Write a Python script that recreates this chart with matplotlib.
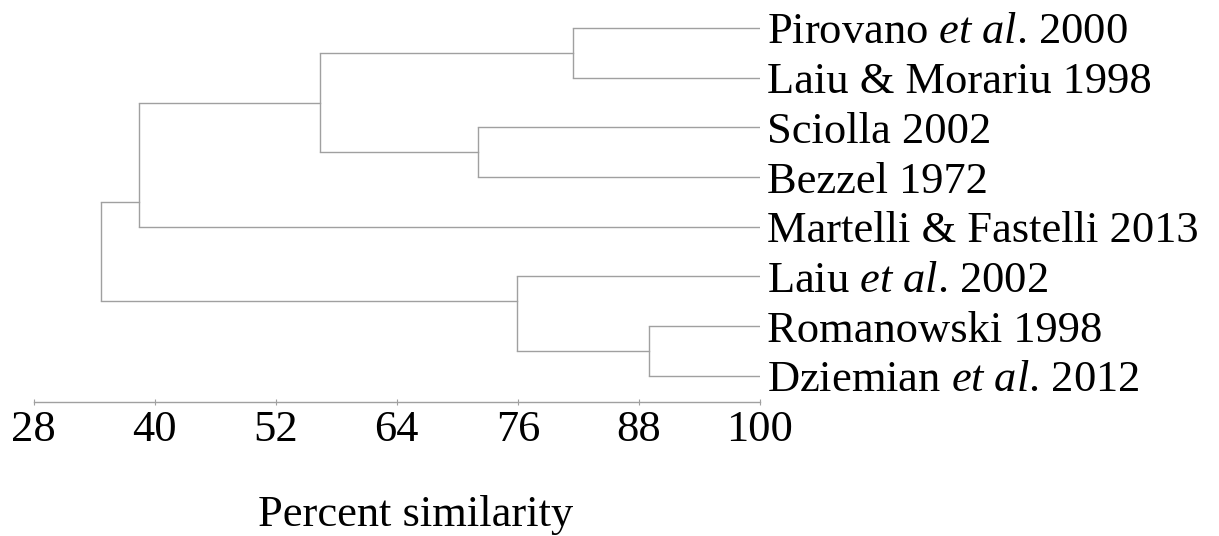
import matplotlib
matplotlib.use("Agg")
import matplotlib.pyplot as plt

# dendrogram of percent similarity between study lists
# leaves listed top to bottom; merges refer to leaf ids 0-7 and node ids 8+

LEAVES = [
    "Pirovano $et\\ al$. 2000",
    "Laiu & Morariu 1998",
    "Sciolla 2002",
    "Bezzel 1972",
    "Martelli & Fastelli 2013",
    "Laiu $et\\ al$. 2002",
    "Romanowski 1998",
    "Dziemian $et\\ al$. 2012",
]
MERGE_LEFT = [0, 2, 8, 10, 6, 5, 11]
MERGE_RIGHT = [1, 3, 9, 4, 7, 12, 13]
MERGE_SIM = [81.5, 72.1, 56.4, 38.5, 89.0, 75.9, 34.7]
# where the parent branch meets each node (leaf units); None = midpoint
MERGE_ATTACH = [None, None, None, 3.5, None, 5.5, None]
XTICKS = [28, 40, 52, 64, 76, 88, 100]

LINE_COLOR = "#a0a0a0"
FS = 32

plt.rcParams["font.family"] = ["Liberation Serif", "DejaVu Serif"]
plt.rcParams["mathtext.fontset"] = "custom"
plt.rcParams["mathtext.rm"] = "Liberation Serif"
plt.rcParams["mathtext.it"] = "Liberation Serif:italic"


def main() -> None:
    fig = plt.figure(figsize=(12.19, 5.36), dpi=100)
    ax = fig.add_axes([33.5 / 1219, 134 / 536, (760 - 33.5) / 1219, 402 / 536])

    n = len(LEAVES)
    node_x = {i: 100.0 for i in range(n)}
    node_y = {i: float(i) for i in range(n)}

    for k, (a, b, sim) in enumerate(zip(MERGE_LEFT, MERGE_RIGHT, MERGE_SIM)):
        ya, yb = node_y[a], node_y[b]
        ax.plot([sim, sim], [ya, yb], color=LINE_COLOR, lw=1.0, solid_capstyle="butt")
        ax.plot([sim, node_x[a]], [ya, ya], color=LINE_COLOR, lw=1.0)
        ax.plot([sim, node_x[b]], [yb, yb], color=LINE_COLOR, lw=1.0)
        nid = n + k
        node_x[nid] = sim
        node_y[nid] = MERGE_ATTACH[k] if MERGE_ATTACH[k] is not None else (ya + yb) / 2

    for i, label in enumerate(LEAVES):
        ax.annotate(label, xy=(100, i), xytext=(5, 0), textcoords="offset points",
                    ha="left", va="center_baseline", fontsize=FS, annotation_clip=False)

    ax.set_xlim(28, 100)
    ax.set_ylim(7.525, -0.563)
    ax.set_xticks(XTICKS)
    ax.set_xticklabels([str(t) for t in XTICKS])
    ax.tick_params(axis="x", direction="inout", length=5, width=0.8, color=LINE_COLOR,
                   labelsize=FS, pad=3)
    ax.set_yticks([])
    for side in ("top", "right", "left"):
        ax.spines[side].set_visible(False)
    ax.spines["bottom"].set_color(LINE_COLOR)
    ax.spines["bottom"].set_linewidth(1.0)

    fig.text(416 / 1219, 10 / 536, "Percent similarity", ha="center", va="baseline", fontsize=FS)

    fig.savefig("out.png", dpi=100, facecolor="white")


if __name__ == "__main__":
    main()
